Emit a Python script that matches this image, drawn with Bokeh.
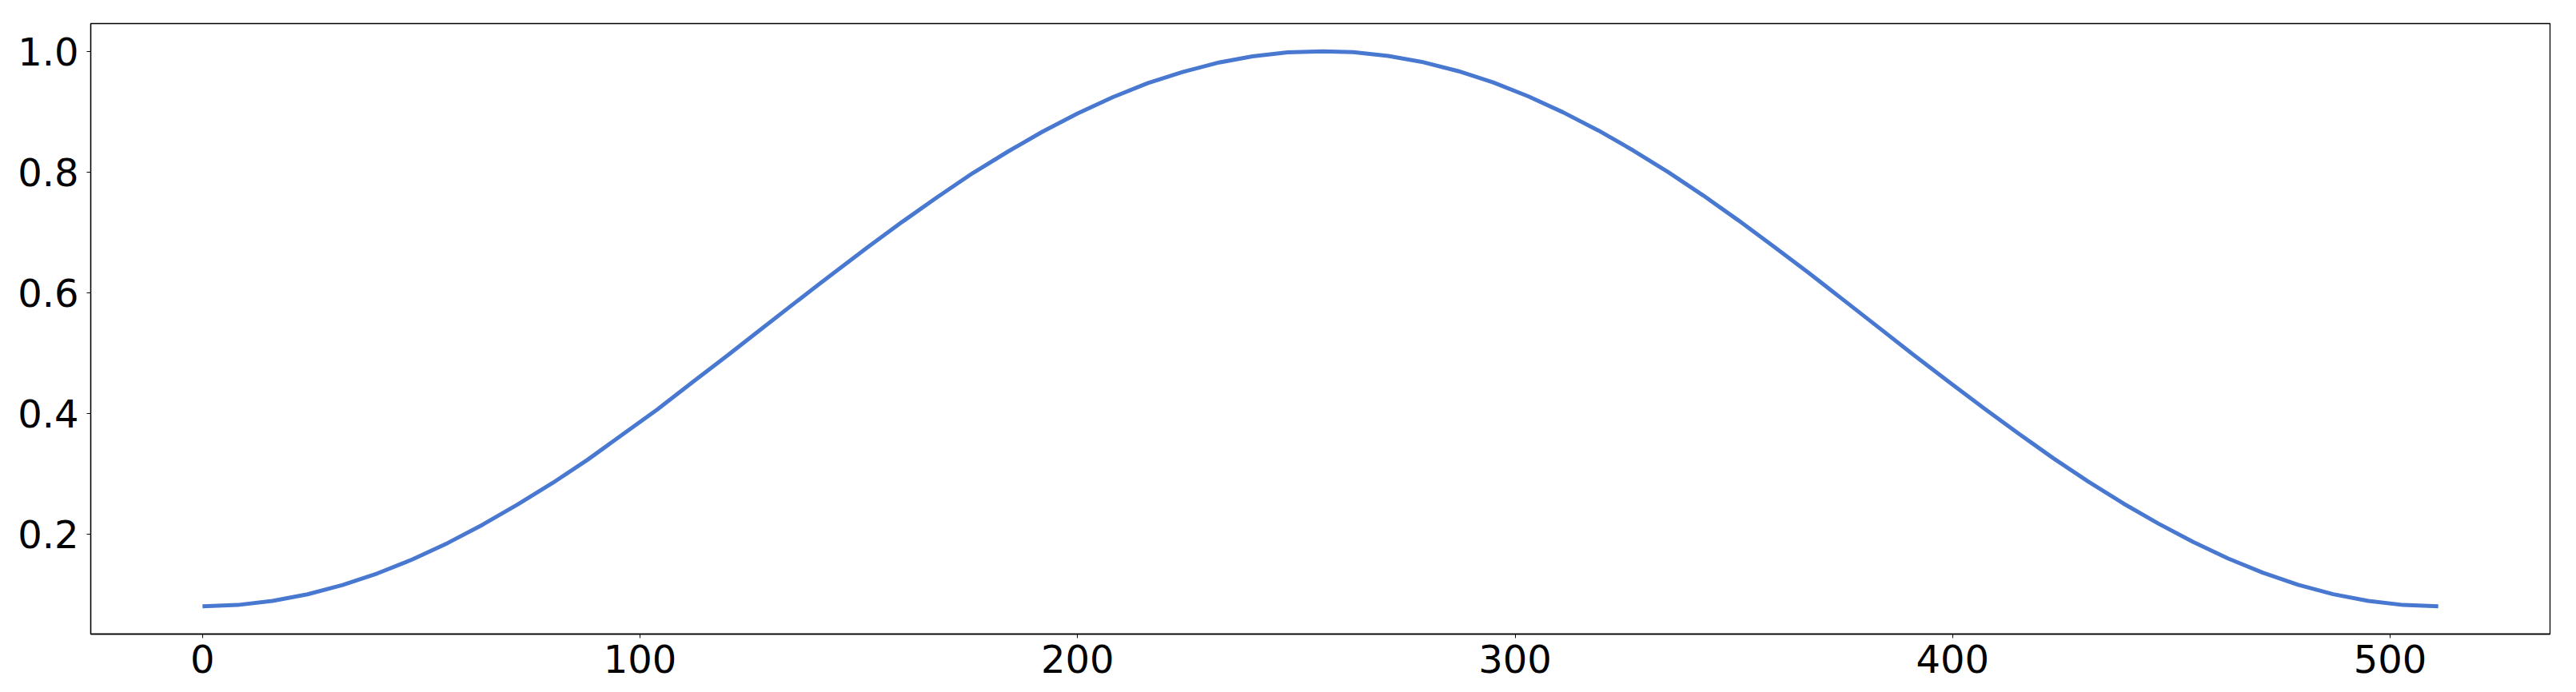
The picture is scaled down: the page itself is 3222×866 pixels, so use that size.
from bokeh.plotting import figure
from bokeh.embed import file_html
from bokeh.resources import INLINE
from bokeh.models import Range1d, FixedTicker, PrintfTickFormatter

# sample index and window value
sample_idx = [0, 8, 16, 24, 32, 40, 48, 56, 64, 72, 80, 88, 96, 104, 112, 120, 128,
              136, 144, 152, 160, 168, 176, 184, 192, 200, 208, 216, 224, 232, 240, 248, 256,
              263, 271, 279, 287, 295, 303, 311, 319, 327, 335, 343, 351, 359, 367, 375, 383,
              391, 399, 407, 415, 423, 431, 439, 447, 455, 463, 471, 479, 487, 495, 503, 511]
window_val = [0.0800, 0.0822, 0.0889, 0.0999, 0.1152, 0.1346, 0.1578, 0.1848, 0.2152, 0.2487,
              0.2844, 0.3229, 0.3649, 0.4066, 0.4516, 0.4959, 0.5414,
              0.5865, 0.6312, 0.6750, 0.7177, 0.7586, 0.7979, 0.8334, 0.8668, 0.8969, 0.9238,
              0.9472, 0.9658, 0.9810, 0.9917, 0.9982, 1.0000,
              0.9986, 0.9924, 0.9820, 0.9672, 0.9485, 0.9255, 0.8988, 0.8689, 0.8357, 0.7997,
              0.7611, 0.7200, 0.6771, 0.6334, 0.5882, 0.5428,
              0.4973, 0.4530, 0.4093, 0.3667, 0.3256, 0.2868, 0.2506, 0.2173, 0.1866, 0.1592,
              0.1355, 0.1157, 0.1001, 0.0889, 0.0822, 0.0800]
x_ticks = [0, 100, 200, 300, 400, 500]
y_ticks = [0.2, 0.4, 0.6, 0.8, 1.0]

p = figure(frame_width=3076, frame_height=764, output_backend="svg", toolbar_location=None,
           min_border_left=113, min_border_right=25, min_border_top=29, min_border_bottom=65,
           x_range=Range1d(-25.55, 536.55), y_range=Range1d(0.034, 1.046))

p.line(sample_idx, window_val, line_color="#4878D0", line_width=5)

p.xgrid.visible = False
p.ygrid.visible = False
p.outline_line_color = "black"
p.outline_line_width = 1.3
p.outline_line_alpha = 1.0

for ax, ticks in ((p.xaxis[0], x_ticks), (p.yaxis[0], y_ticks)):
    ax.ticker = FixedTicker(ticks=ticks)
    ax.minor_tick_line_color = None
    ax.major_tick_in = 0
    ax.major_tick_out = 5
    ax.major_tick_line_color = "black"
    ax.major_tick_line_width = 1
    ax.axis_line_color = "black"
    ax.axis_line_width = 1.3
    ax.major_label_text_font = "DejaVu Sans"
    ax.major_label_text_font_size = "48px"
    ax.major_label_text_color = "black"

p.yaxis[0].formatter = PrintfTickFormatter(format="%.1f")
p.xaxis[0].major_label_standoff = 8
p.yaxis[0].major_label_standoff = 10

open("out.html", "w").write(file_html(p, INLINE))
